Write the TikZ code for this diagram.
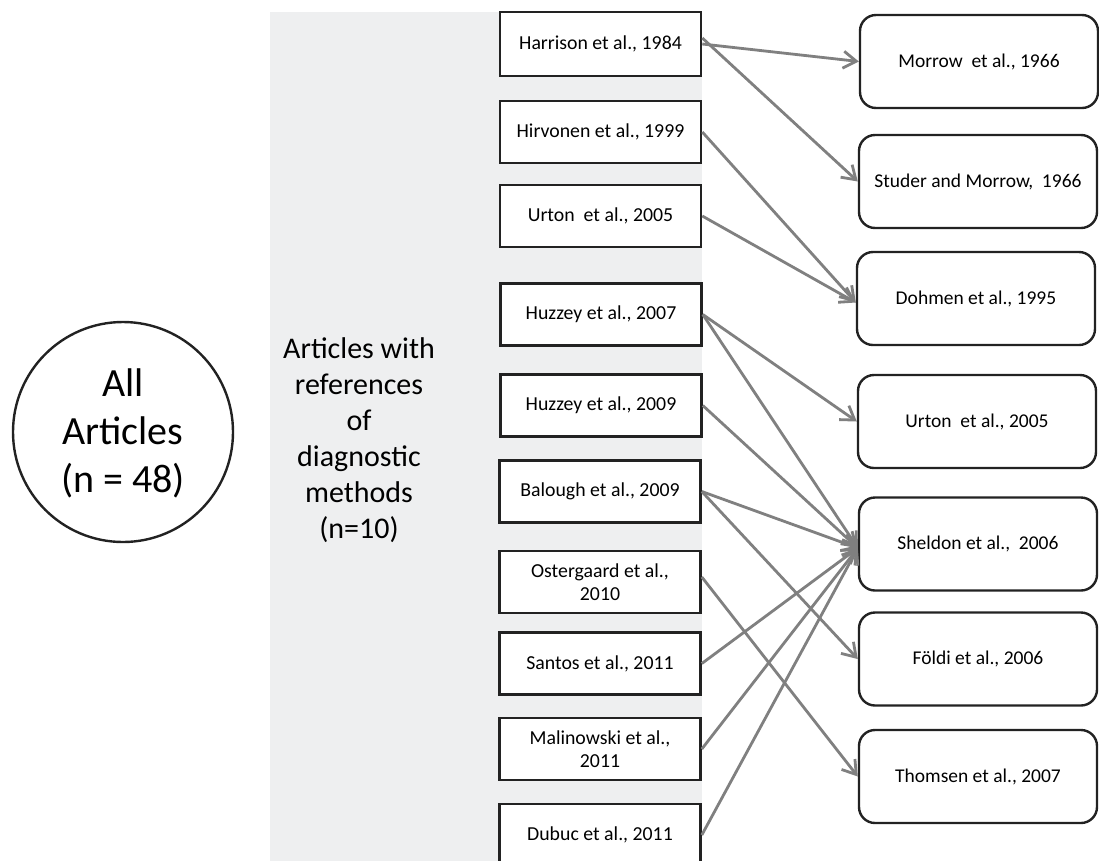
\documentclass[tikz,border=0pt]{standalone}
\usepackage{fontspec}
\setmainfont{Carlito}
\usetikzlibrary{arrows.meta}
\definecolor{panel}{RGB}{238,239,240}
\definecolor{edge}{RGB}{34,34,34}
\definecolor{link}{RGB}{128,128,128}
\begin{document}
\begin{tikzpicture}[x=1pt,y=-1pt,
  lbox/.style={draw=edge, line width=2.6pt, fill=white, minimum width=201pt, minimum height=62pt, align=center, inner sep=0pt, font=\fontsize{19.8}{23}\selectfont},
  rbox/.style={draw=edge, line width=2.4pt, fill=white, rounded corners=16pt, minimum width=238pt, minimum height=93pt, inner sep=0pt, font=\fontsize{19.5}{23}\selectfont},
  linkarrow/.style={draw=link, line width=2.8pt, -{Straight Barb[length=13pt,width=17pt]}}
]
\useasboundingbox (0,0) rectangle (1099,860);
\fill[white] (0,0) rectangle (1099,860);
% gray panel
\fill[panel] (270,12) rectangle (702,870);
% circle
\node[draw=edge, line width=2.4pt, circle, minimum size=220pt, inner sep=0pt] (all) at (123,432) {};
\node[align=center, font=\fontsize{40}{48}\selectfont] (alltxt) at (123,433) {All\\Articles\\(n = 48)};
% middle text
\node[align=center, font=\fontsize{30}{36}\selectfont] (mid) at (359,440) {Articles with\\references\\of\\diagnostic\\methods\\(n=10)};
% left boxes
\node[lbox, minimum height=64pt] (l1) at (600.5,44) {Harrison et al., 1984};
\node[lbox] (l2) at (600.5,132) {Hirvonen et al., 1999};
\node[lbox] (l3) at (600.5,216) {Urton\ \ et al., 2005};
\node[lbox] (l4) at (601,314.5) {Huzzey et al., 2007};
\node[lbox] (l5) at (601,405.5) {Huzzey et al., 2009};
\node[lbox] (l6) at (600,491.5) {Balough et al., 2009};
\node[lbox] (l7) at (600,582) {Ostergaard et al.,\\2010};
\node[lbox] (l8) at (600,663.5) {Santos et al., 2011};
\node[lbox] (l9) at (600,749) {Malinowski et al.,\\2011};
\node[lbox] (l10) at (600,835) {Dubuc et al., 2011};
% right boxes
\node[rbox] (r1) at (979,61.5) {Morrow\ \ et al., 1966};
\node[rbox] (r2) at (978,181.5) {Studer and Morrow,\ \ 1966};
\node[rbox] (r3) at (976,298.5) {Dohmen et al., 1995};
\node[rbox] (r4) at (977,421.5) {Urton\ \ et al., 2005};
\node[rbox] (r5) at (978,544) {Sheldon et al.,\ \ 2006};
\node[rbox] (r6) at (978,659) {Földi et al., 2006};
\node[rbox] (r7) at (978,776.5) {Thomsen et al., 2007};
% connectors
\draw[linkarrow] (l1.east) -- (r1.west);
\draw[linkarrow] ([yshift=6pt]l1.east) -- (r2.west);
\draw[linkarrow] (l2.east) -- ([yshift=-4pt]r3.west);
\draw[linkarrow] (l3.east) -- ([yshift=-4pt]r3.west);
\draw[linkarrow] (l4.east) -- (r4.west);
\draw[linkarrow] (l4.east) -- ([yshift=-4pt]r5.west);
\draw[linkarrow] (l5.east) -- ([yshift=-4pt]r5.west);
\draw[linkarrow] (l6.east) -- ([yshift=-4pt]r5.west);
\draw[linkarrow] (l6.east) -- (r6.west);
\draw[linkarrow] ([yshift=5pt]l7.east) -- (r7.west);
\draw[linkarrow] (l8.east) -- ([yshift=-4pt]r5.west);
\draw[linkarrow] (l9.east) -- ([yshift=-4pt]r5.west);
\draw[linkarrow] (l10.east) -- ([yshift=-4pt]r5.west);
\end{tikzpicture}
\end{document}
